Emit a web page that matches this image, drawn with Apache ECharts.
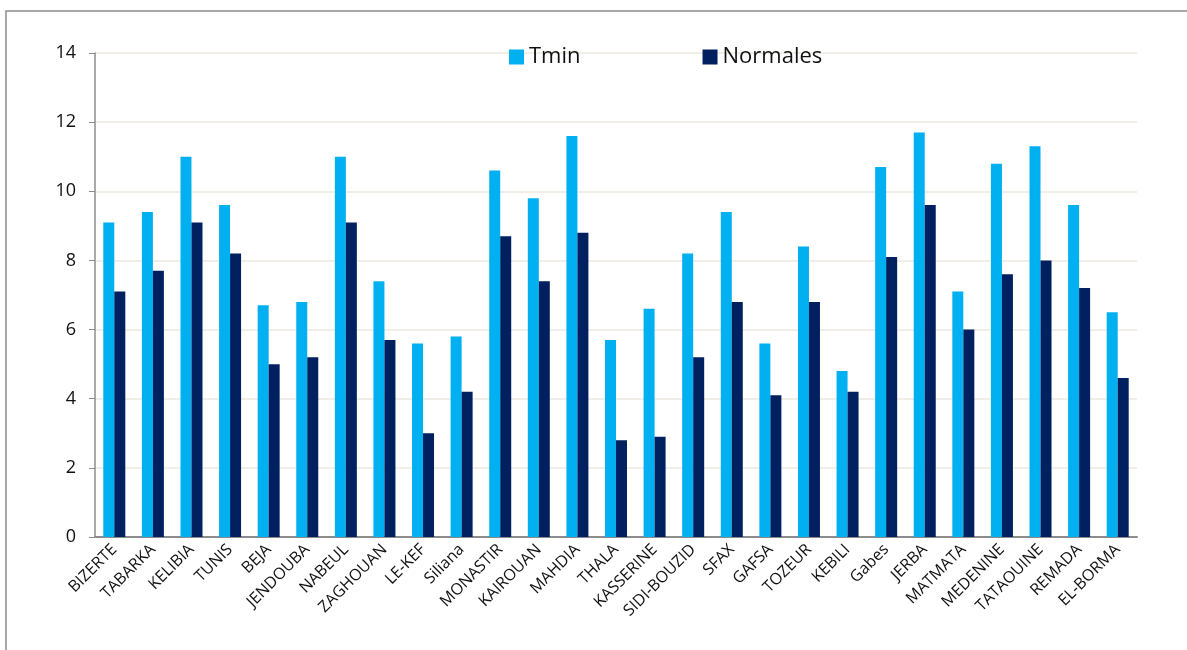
<!DOCTYPE html>
<html>
<head>
<meta charset="utf-8">
<script src="https://cdn.jsdelivr.net/npm/echarts@6/dist/echarts.min.js"></script>
<style>
html,body{margin:0;padding:0;background:#fff;}
#c{width:1187px;height:650px;}
</style>
</head>
<body>
<div id="c"></div>
<script>
var categories = ["BIZERTE","TABARKA","KELIBIA","TUNIS","BEJA","JENDOUBA","NABEUL","ZAGHOUAN","LE-KEF","Siliana","MONASTIR","KAIROUAN","MAHDIA","THALA","KASSERINE","SIDI-BOUZID","SFAX","GAFSA","TOZEUR","KEBILI","Gabes","JERBA","MATMATA","MEDENINE","TATAOUINE","REMADA","EL-BORMA"];
var tmin = [9.1,9.4,11.0,9.6,6.7,6.8,11.0,7.4,5.6,5.8,10.6,9.8,11.6,5.7,6.6,8.2,9.4,5.6,8.4,4.8,10.7,11.7,7.1,10.8,11.3,9.6,6.5];
var normales = [7.1,7.7,9.1,8.2,5.0,5.2,9.1,5.7,3.0,4.2,8.7,7.4,8.8,2.8,2.9,5.2,6.8,4.1,6.8,4.2,8.1,9.6,6.0,7.6,8.0,7.2,4.6];
var yTicks = {min:0, max:14, interval:2};

var chart = echarts.init(document.getElementById('c'), null, {renderer:'canvas'});
var font = '"Open Sans", "Noto Sans", sans-serif';
chart.setOption({
  animation:false,
  backgroundColor:'#fff',
  graphic:[{
    type:'rect', shape:{x:6, y:11, width:1200, height:700},
    style:{fill:'none', stroke:'#8c8c8c', lineWidth:1.5}, silent:true
  }],
  legend:{
    left:504, top:41, itemWidth:15, itemHeight:15, itemGap:122,
    icon:'rect',
    textStyle:{fontFamily:font, fontSize:22, color:'#111', padding:[0,0,0,0]},
    data:['Tmin','Normales']
  },
  grid:{left:95, right:50, top:53, bottom:113, containLabel:false},
  xAxis:{
    type:'category', data:categories,
    axisLine:{lineStyle:{color:'#8c8c8c', width:2}},
    axisTick:{show:false},
    axisLabel:{rotate:45, interval:0, fontFamily:font, fontSize:16, color:'#111', margin:10}
  },
  yAxis:{
    type:'value', min:yTicks.min, max:yTicks.max, interval:yTicks.interval,
    axisLine:{show:true, lineStyle:{color:'#8c8c8c', width:1.5}},
    axisTick:{show:true, length:6, lineStyle:{color:'#8c8c8c'}},
    splitLine:{lineStyle:{color:'#ebe8de', width:1.5}},
    axisLabel:{fontFamily:font, fontSize:18, color:'#111', margin:19}
  },
  series:[
    {name:'Tmin', type:'bar', data:tmin, barWidth:11, barGap:'0%', itemStyle:{color:'#00b0f0'}},
    {name:'Normales', type:'bar', data:normales, barWidth:11, itemStyle:{color:'#002060'}}
  ]
});
</script>
</body>
</html>
